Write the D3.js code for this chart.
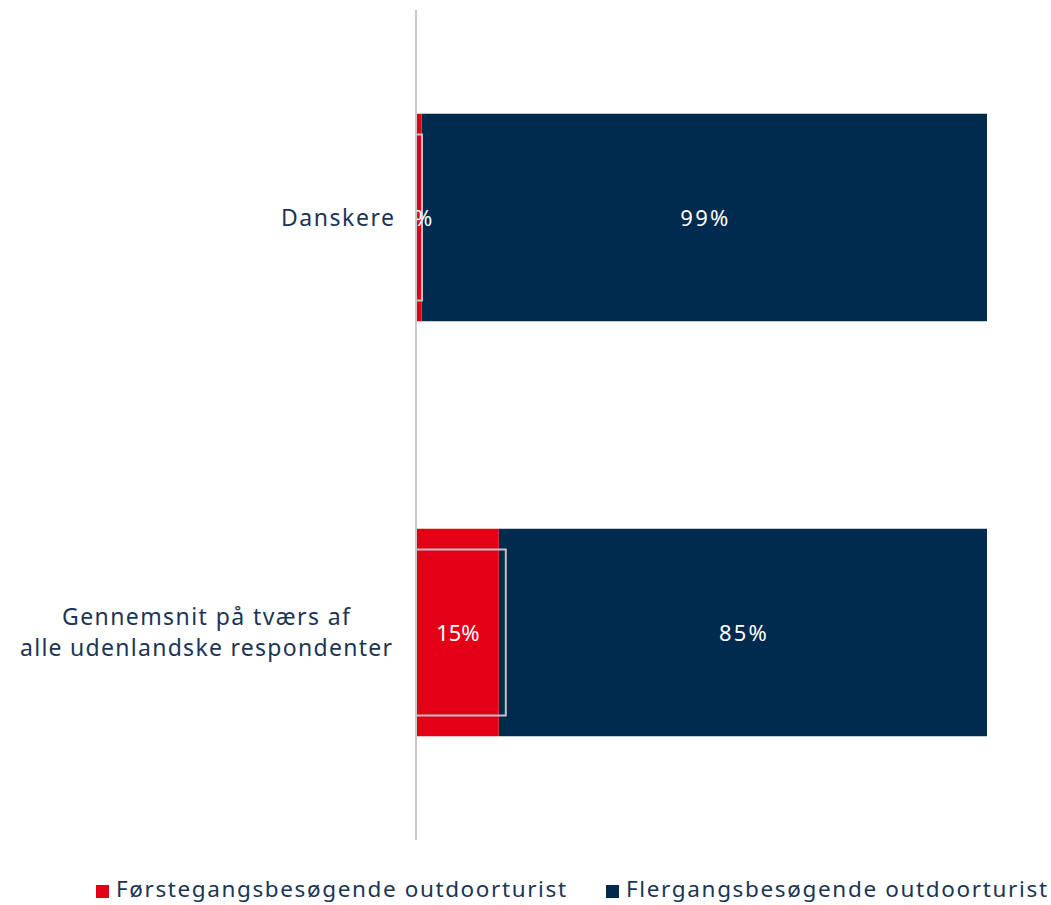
<!DOCTYPE html>
<html>
<head>
<meta charset="utf-8">
<script src="https://cdn.jsdelivr.net/npm/d3@7"></script>
<style>
  body { margin: 0; background: #fff; }
  svg { display: block; font-family: "Noto Sans", sans-serif; }
</style>
</head>
<body>
<div id="chart"></div>
<script>
// categories (top to bottom)
const categories = ["Danskere", "Gennemsnit på tværs af|alle udenlandske respondenter"];
// share of first-time visitors and repeat visitors
const firstTime = [0.01, 0.145];
const repeat = [0.99, 0.855];
const firstLabels = ["1%", "15%"];
const repeatLabels = ["99%", "85%"];
const seriesNames = ["Førstegangsbesøgende outdoorturist", "Flergangsbesøgende outdoorturist"];
const seriesColors = ["#E30016", "#002A4E"];

const width = 1051, height = 905;
const textColor = "#1b3556";
const svg = d3.select("#chart").append("svg")
    .attr("width", width)
    .attr("height", height);

// scales
const x = d3.scaleLinear().domain([0, 1]).range([416, 987]);
const y = d3.scaleBand().domain(categories).range([10, 840]).paddingInner(0.5).paddingOuter(0.25);

const rows = categories.map((c, i) => ({cat: c, a: firstTime[i], b: repeat[i], la: firstLabels[i], lb: repeatLabels[i]}));

// stretch text to the width the original font gives (wide font)
function fitWidth(sel, perChar) {
    sel.each(function() {
        const t = d3.select(this);
        const n = t.text().length;
        t.attr("textLength", n * perChar).attr("lengthAdjust", "spacing");
    });
}

// repeat visitors bar
svg.selectAll("rect.rep")
    .data(rows)
    .enter().append("rect")
    .attr("class", "rep")
    .attr("x", d => x(d.a))
    .attr("y", d => y(d.cat))
    .attr("width", d => x(d.a + d.b) - x(d.a))
    .attr("height", y.bandwidth())
    .attr("fill", seriesColors[1]);

// first time bar
svg.selectAll("rect.first")
    .data(rows)
    .enter().append("rect")
    .attr("class", "first")
    .attr("x", x(0))
    .attr("y", d => y(d.cat))
    .attr("width", d => x(d.a) - x(0))
    .attr("height", y.bandwidth())
    .attr("fill", seriesColors[0]);

// label boxes (grey outline) for first-time values
svg.selectAll("rect.lbox")
    .data(rows)
    .enter().append("rect")
    .attr("class", "lbox")
    .attr("x", x(0))
    .attr("y", d => y(d.cat) + y.bandwidth() * 0.1)
    .attr("width", d => Math.max(x(d.a) - x(0), 6) + (d.a > 0.05 ? 7 : 0))
    .attr("height", y.bandwidth() * 0.8)
    .attr("fill", "none")
    .attr("stroke", "#c3c3c3")
    .attr("stroke-width", 2);

// value labels
svg.selectAll("text.la")
    .data(rows)
    .enter().append("text")
    .attr("class", "la")
    .attr("x", d => (x(0) + x(d.a)) / 2 + (d.a > 0.05 ? 0.5 : -1))
    .attr("y", d => y(d.cat) + y.bandwidth() / 2 + 1)
    .attr("dy", "0.35em")
    .attr("text-anchor", "middle")
    .attr("fill", "#fff")
    .attr("font-size", 22)
    .text(d => d.la)
    .call(fitWidth, 14.5);

svg.selectAll("text.lb")
    .data(rows)
    .enter().append("text")
    .attr("class", "lb")
    .attr("x", d => (x(d.a) + x(d.a + d.b)) / 2)
    .attr("y", d => y(d.cat) + y.bandwidth() / 2 + 1)
    .attr("dy", "0.35em")
    .attr("text-anchor", "middle")
    .attr("fill", "#fff")
    .attr("font-size", 22)
    .text(d => d.lb)
    .call(fitWidth, 16);

// white mask left of the axis so the small label is cut like the original
svg.append("rect")
    .attr("x", 380).attr("y", 0)
    .attr("width", x(0) - 380).attr("height", 850)
    .attr("fill", "#fff");

// axis line
svg.append("line")
    .attr("x1", x(0)).attr("x2", x(0))
    .attr("y1", 10).attr("y2", 840)
    .attr("stroke", "#c8c8c8")
    .attr("stroke-width", 2);

// category labels
const catWidths = [[113], [288, 372]];
svg.selectAll("text.cat")
    .data(rows)
    .enter().append("text")
    .attr("class", "cat")
    .attr("text-anchor", "middle")
    .attr("fill", textColor)
    .attr("font-size", 23)
    .each(function(d, j) {
        const lines = d.cat.split("|");
        const cy = y(d.cat) + y.bandwidth() / 2;
        const t = d3.select(this);
        lines.forEach((l, i) => {
            t.append("tspan")
                .attr("x", lines.length > 1 ? 206 : 337.5)
                .attr("y", cy + (i - (lines.length - 1) / 2) * 31)
                .attr("dy", "0.35em")
                .attr("textLength", catWidths[j][i])
                .attr("lengthAdjust", "spacing")
                .text(l);
        });
    });

// legend
const legendX = [96, 606];
const legendW = [450, 421];
const legend = svg.selectAll("g.leg")
    .data(seriesNames)
    .enter().append("g")
    .attr("class", "leg")
    .attr("transform", (d, i) => `translate(${legendX[i]},884)`);
legend.append("rect")
    .attr("y", 1)
    .attr("width", 13).attr("height", 13)
    .attr("fill", (d, i) => seriesColors[i]);
legend.append("text")
    .attr("x", 20).attr("y", 5)
    .attr("dy", "0.35em")
    .attr("fill", textColor)
    .attr("font-size", 22.5)
    .attr("textLength", (d, i) => legendW[i])
    .attr("lengthAdjust", "spacing")
    .text(d => d);
</script>
</body>
</html>
